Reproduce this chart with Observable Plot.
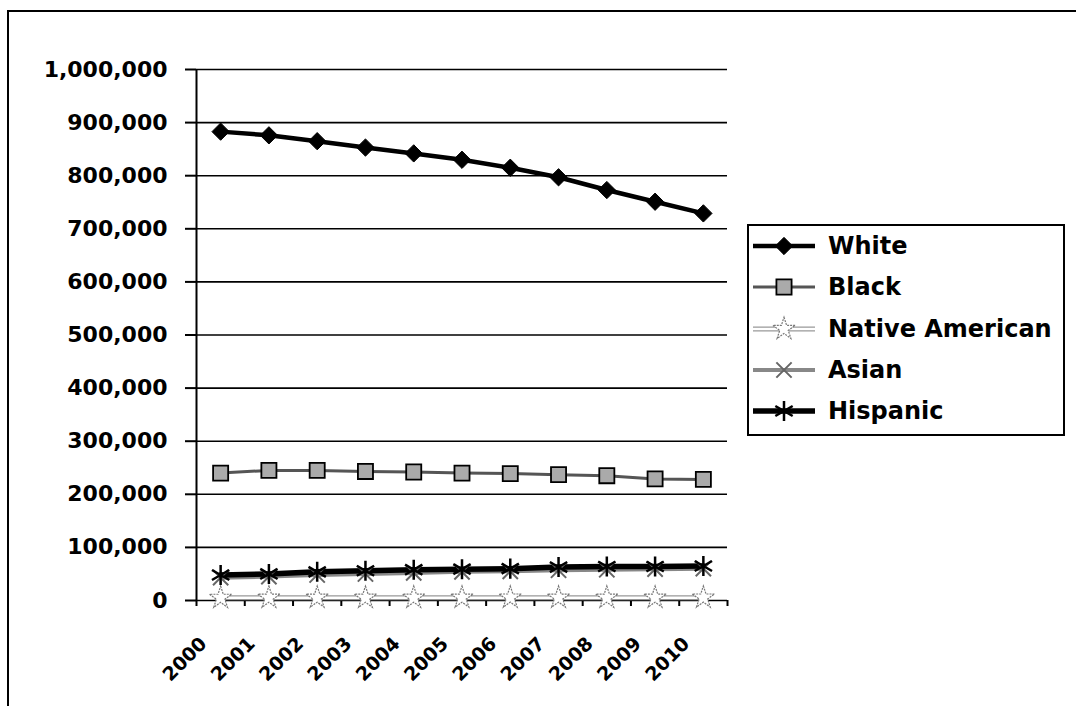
<!DOCTYPE html>
<html>
<head>
<meta charset="utf-8">
<script src="https://cdn.jsdelivr.net/npm/d3@7"></script>
<script src="https://cdn.jsdelivr.net/npm/@observablehq/plot@0.6"></script>
<style>
  body { margin: 0; background: #fff; }
  #wrap { position: relative; width: 1076px; height: 706px; overflow: hidden; font-family: "DejaVu Sans", sans-serif; background: #fff; }
  #frame { position: absolute; left: 7px; top: 10px; width: 1200px; height: 900px; border-left: 2px solid #000; border-top: 2px solid #000; }
  #chart { position: absolute; left: 0; top: 0; }
  #legend { position: absolute; left: 747px; top: 224px; width: 314px; height: 208px; border: 2px solid #000; background: #fff; }
  .item { position: absolute; left: 4px; height: 30px; display: flex; align-items: center; }
  .item span { font-weight: bold; font-size: 24px; margin-left: 13px; color: #000; white-space: nowrap; }
</style>
</head>
<body>
<div id="wrap">
  <div id="frame"></div>
  <div id="chart"></div>
  <div id="legend"></div>
</div>
<script>
// ---- data ----
const years = [2000, 2001, 2002, 2003, 2004, 2005, 2006, 2007, 2008, 2009, 2010];
const white    = [883000, 876000, 865000, 853000, 842000, 830000, 815000, 797000, 773000, 751000, 729000];
const black    = [240000, 245000, 245000, 243000, 242000, 240000, 239000, 237000, 235000, 229000, 228000];
const native   = [5000, 5200, 5300, 5100, 5200, 5300, 5400, 5300, 5200, 5300, 5400];
const asian    = [43000, 45000, 48000, 50000, 52000, 54000, 55000, 57000, 58000, 59000, 60000];
const hispanic = [48000, 50000, 54000, 56000, 58000, 59000, 60000, 63000, 64000, 64000, 65000];
const seriesNames = ["White", "Black", "Native American", "Asian", "Hispanic"];
const yTicks = [0, 100000, 200000, 300000, 400000, 500000, 600000, 700000, 800000, 900000, 1000000];
const xBounds = [1999.5, 2000.5, 2001.5, 2002.5, 2003.5, 2004.5, 2005.5, 2006.5, 2007.5, 2008.5, 2009.5, 2010.5];

const seriesValues = [white, black, native, asian, hispanic];
const rows = [];
seriesNames.forEach((s, i) => years.forEach((yr, j) => rows.push({series: s, year: yr, value: seriesValues[i][j]})));
const of = s => rows.filter(d => d.series === s);

const chart = Plot.plot({
  width: 1076,
  height: 706,
  marginLeft: 196,
  marginRight: 349,
  marginTop: 69,
  marginBottom: 106,
  style: { background: "transparent", fontFamily: "DejaVu Sans, sans-serif", color: "#000", overflow: "visible" },
  x: { domain: [1999.5, 2010.5] },
  y: { domain: [0, 1000000] },
  marks: [
    Plot.ruleY(yTicks, { stroke: "#000", strokeWidth: 1.6 }),
    Plot.ruleX([1999.5], { stroke: "#000", strokeWidth: 2 }),
    Plot.axisY(yTicks, { label: null, tickSize: 11, tickPadding: 18, tickFormat: d3.format(","), fontSize: 22, fontWeight: "bold", stroke: "#000", strokeWidth: 2, color: "#000" }),
    Plot.axisX(xBounds, { label: null, tickSize: 6, tickFormat: () => "", stroke: "#000", strokeWidth: 2 }),
    Plot.axisX(years, { label: null, tickSize: 0, tickPadding: 0, tickRotate: -45, dx: -17, dy: 40, fontSize: 19, fontWeight: "bold", tickFormat: d => String(d), letterSpacing: "-1.5px" }),
    // Native American
    Plot.line(of("Native American"), { x: "year", y: "value", stroke: "#999", strokeWidth: 5 }),
    Plot.line(of("Native American"), { x: "year", y: "value", stroke: "#fff", strokeWidth: 2.5 }),
    Plot.dot(of("Native American"), { x: "year", y: "value", symbol: "star", r: 7, fill: "#fff", stroke: "#777", strokeWidth: 1.2, strokeDasharray: "2,1" }),
    // Asian
    Plot.line(of("Asian"), { x: "year", y: "value", stroke: "#888", strokeWidth: 4 }),
    // Hispanic
    Plot.line(of("Hispanic"), { x: "year", y: "value", stroke: "#000", strokeWidth: 5.5 }),
    Plot.dot(of("Asian"), { x: "year", y: "value", symbol: "times", r: 7, stroke: "#666", strokeWidth: 2 }),
    Plot.dot(of("Hispanic"), { x: "year", y: "value", symbol: "asterisk", r: 9.5, stroke: "#000", strokeWidth: 2.5 }),
    // Black
    Plot.line(of("Black"), { x: "year", y: "value", stroke: "#555", strokeWidth: 3 }),
    Plot.dot(of("Black"), { x: "year", y: "value", symbol: "square", r: 8.5, fill: "#aaa", stroke: "#000", strokeWidth: 1.8 }),
    // White
    Plot.line(of("White"), { x: "year", y: "value", stroke: "#000", strokeWidth: 4.5 }),
    Plot.dot(of("White"), { x: "year", y: "value", symbol: d3.symbolDiamond2, r: 7.8, fill: "#000", stroke: "#000", strokeWidth: 1 })
  ]
});
document.getElementById("chart").appendChild(chart);

// ---- legend ----
const legendStyles = {
  "White":           { line: [["#000", 4.5]], sym: d3.symbolDiamond2, size: 190, fill: "#000", stroke: "#000", sw: 1 },
  "Black":           { line: [["#555", 3]], sym: d3.symbolSquare, size: 230, fill: "#aaa", stroke: "#000", sw: 1.8 },
  "Native American": { line: [["#999", 5], ["#fff", 2.5]], sym: d3.symbolStar, size: 154, fill: "#fff", stroke: "#777", sw: 1.2, dash: "2,1" },
  "Asian":           { line: [["#888", 4]], sym: d3.symbolTimes, size: 154, fill: "none", stroke: "#666", sw: 2 },
  "Hispanic":        { line: [["#000", 5.5]], sym: d3.symbolAsterisk, size: 283, fill: "none", stroke: "#000", sw: 2.5 }
};
const legend = document.getElementById("legend");
const legendTops = [246, 287, 329, 370, 411];
seriesNames.forEach((name, i) => {
  const st = legendStyles[name];
  const item = document.createElement("div");
  item.className = "item";
  item.style.top = (legendTops[i] - 226 - 15) + "px";
  const svg = d3.create("svg").attr("width", 62).attr("height", 30);
  st.line.forEach(([c, w]) => svg.append("line").attr("x1", 0).attr("x2", 62).attr("y1", 15).attr("y2", 15).attr("stroke", c).attr("stroke-width", w));
  svg.append("path").attr("transform", "translate(31,15)").attr("d", d3.symbol(st.sym, st.size)())
    .attr("fill", st.fill).attr("stroke", st.stroke).attr("stroke-width", st.sw).attr("stroke-dasharray", st.dash || null);
  item.appendChild(svg.node());
  const span = document.createElement("span");
  span.textContent = name;
  item.appendChild(span);
  legend.appendChild(item);
});
</script>
</body>
</html>
